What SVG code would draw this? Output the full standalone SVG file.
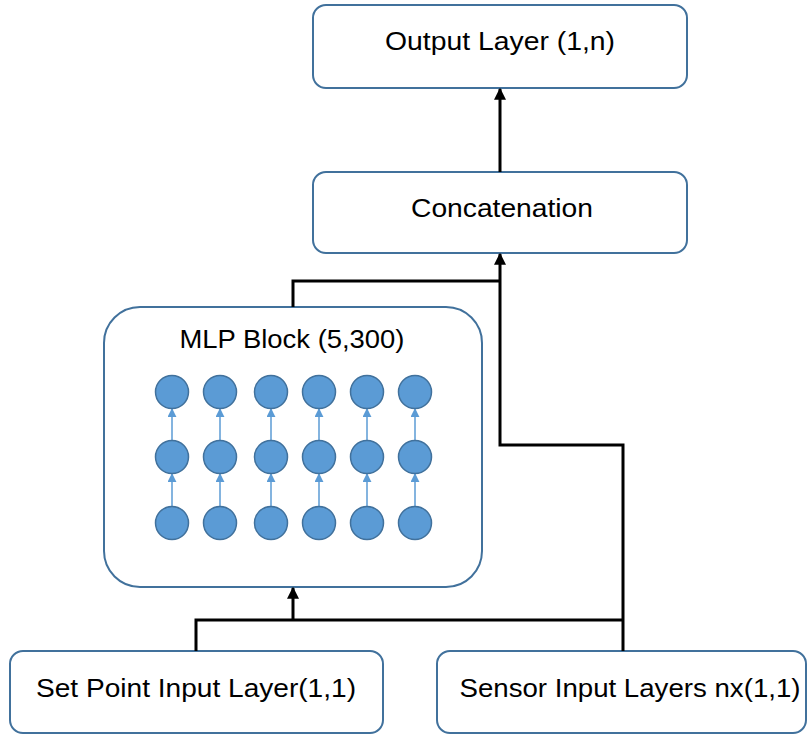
<svg xmlns="http://www.w3.org/2000/svg" width="809" height="736" viewBox="0 0 809 736">
<defs>
<style>
.box{fill:#fff;stroke:#41719C;stroke-width:2}
.t{font-family:"Liberation Sans",Arial,sans-serif;font-size:25px;fill:#000;text-anchor:middle}
.conn{fill:none;stroke:#000;stroke-width:3}
.n{fill:#5B9BD5;stroke:#41719C;stroke-width:1.5}
.small{stroke:#5B9BD5;stroke-width:1.5;fill:none}
</style>
<marker id="ah" viewBox="0 0 10 10" refX="9" refY="5" markerWidth="4" markerHeight="4" orient="auto" markerUnits="strokeWidth">
<path d="M0,0 L10,5 L0,10 z" fill="#000"/>
</marker>
<marker id="ahs" viewBox="0 0 10 10" refX="9" refY="5" markerWidth="6" markerHeight="6" orient="auto" markerUnits="strokeWidth">
<path d="M0,0 L10,5 L0,10 z" fill="#5B9BD5"/>
</marker>
</defs>
<g id="output">
<rect class="box" x="313" y="5" width="374" height="83" rx="13"/>
<text class="t" x="500" y="50" textLength="230" lengthAdjust="spacingAndGlyphs">Output Layer (1,n)</text>
</g>
<g id="concat">
<rect class="box" x="313" y="172" width="374" height="81" rx="13"/>
<text class="t" x="502" y="217" textLength="182" lengthAdjust="spacingAndGlyphs">Concatenation</text>
</g>
<g id="mlp">
<rect class="box" x="104" y="307" width="378" height="280" rx="36"/>
<text class="t" x="292" y="348" textLength="225" lengthAdjust="spacingAndGlyphs">MLP Block (5,300)</text>
<g id="neurons">
<g class="small">
<line x1="172" y1="506" x2="172" y2="474" marker-end="url(#ahs)"/>
<line x1="172" y1="440" x2="172" y2="409" marker-end="url(#ahs)"/>
<line x1="220" y1="506" x2="220" y2="474" marker-end="url(#ahs)"/>
<line x1="220" y1="440" x2="220" y2="409" marker-end="url(#ahs)"/>
<line x1="271" y1="506" x2="271" y2="474" marker-end="url(#ahs)"/>
<line x1="271" y1="440" x2="271" y2="409" marker-end="url(#ahs)"/>
<line x1="319" y1="506" x2="319" y2="474" marker-end="url(#ahs)"/>
<line x1="319" y1="440" x2="319" y2="409" marker-end="url(#ahs)"/>
<line x1="367" y1="506" x2="367" y2="474" marker-end="url(#ahs)"/>
<line x1="367" y1="440" x2="367" y2="409" marker-end="url(#ahs)"/>
<line x1="415" y1="506" x2="415" y2="474" marker-end="url(#ahs)"/>
<line x1="415" y1="440" x2="415" y2="409" marker-end="url(#ahs)"/>
</g>
<circle class="n" cx="172" cy="392" r="16.5"/>
<circle class="n" cx="220" cy="392" r="16.5"/>
<circle class="n" cx="271" cy="392" r="16.5"/>
<circle class="n" cx="319" cy="392" r="16.5"/>
<circle class="n" cx="367" cy="392" r="16.5"/>
<circle class="n" cx="415" cy="392" r="16.5"/>
<circle class="n" cx="172" cy="457" r="16.5"/>
<circle class="n" cx="220" cy="457" r="16.5"/>
<circle class="n" cx="271" cy="457" r="16.5"/>
<circle class="n" cx="319" cy="457" r="16.5"/>
<circle class="n" cx="367" cy="457" r="16.5"/>
<circle class="n" cx="415" cy="457" r="16.5"/>
<circle class="n" cx="172" cy="523" r="16.5"/>
<circle class="n" cx="220" cy="523" r="16.5"/>
<circle class="n" cx="271" cy="523" r="16.5"/>
<circle class="n" cx="319" cy="523" r="16.5"/>
<circle class="n" cx="367" cy="523" r="16.5"/>
<circle class="n" cx="415" cy="523" r="16.5"/>
</g>
</g>
<g id="setpoint">
<rect class="box" x="10" y="651" width="373" height="82" rx="13"/>
<text class="t" x="196" y="697" textLength="320" lengthAdjust="spacingAndGlyphs">Set Point Input Layer(1,1)</text>
</g>
<g id="sensor">
<rect class="box" x="437" y="651" width="369" height="82" rx="13"/>
<text class="t" x="630" y="697" textLength="341" lengthAdjust="spacingAndGlyphs">Sensor Input Layers nx(1,1)</text>
</g>
<g id="connectors">
<line class="conn" x1="500" y1="172" x2="500" y2="89" marker-end="url(#ah)"/>
<polyline class="conn" points="293,307 293,281 500,281"/>
<polyline class="conn" points="623,651 623,445 500,445 500,254" marker-end="url(#ah)"/>
<polyline class="conn" points="196,651 196,620 623,620"/>
<line class="conn" x1="293" y1="620" x2="293" y2="588" marker-end="url(#ah)"/>
</g>
</svg>
